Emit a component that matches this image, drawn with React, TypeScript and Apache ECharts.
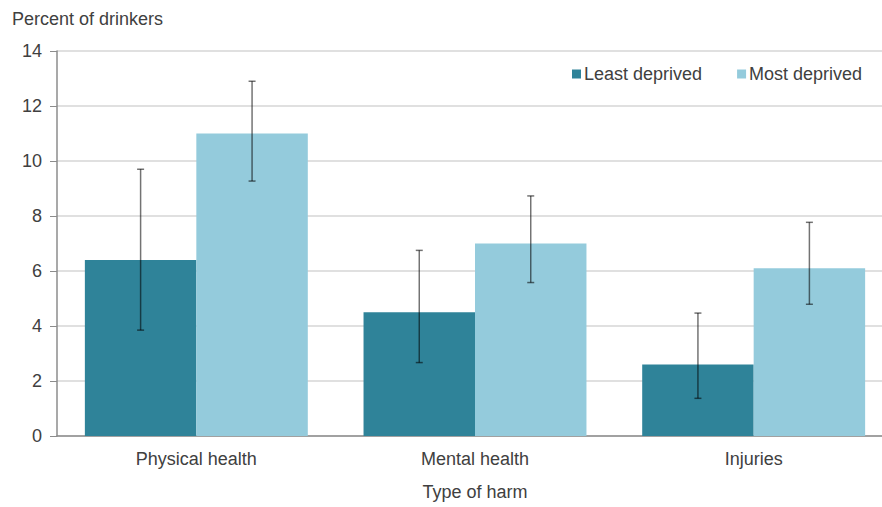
import React, { useEffect, useRef } from "react";
import * as echarts from "echarts";

const categories = ["Physical health", "Mental health", "Injuries"];
const seriesNames = ["Least deprived", "Most deprived"];
const leastDeprived = [6.4, 4.5, 2.6];
const mostDeprived = [11.0, 7.0, 6.1];
const leastLow = [3.85, 2.67, 1.37];
const leastHigh = [9.7, 6.75, 4.47];
const mostLow = [9.27, 5.58, 4.79];
const mostHigh = [12.9, 8.73, 7.77];
const yTicks = [0, 2, 4, 6, 8, 10, 12, 14];

const COLORS = ["#2f8399", "#94cbdc"];
const FONT = "'Liberation Sans', Arial, sans-serif";
const TEXT = "#404040";
const BAR_CATEGORY_GAP = 0.2;

function errorSeries(low: number[], high: number[], side: number) {
  return {
    type: "custom",
    name: "err" + side,
    silent: true,
    z: 10,
    data: categories.map((_, i) => [i, low[i], high[i]]),
    encode: { x: 0, y: [1, 2] },
    renderItem: (params: any, api: any) => {
      const idx = api.value(0);
      const lo = api.coord([idx, api.value(1)]);
      const hi = api.coord([idx, api.value(2)]);
      const cw = api.size([1, 0])[0];
      const bw = (cw * (1 - BAR_CATEGORY_GAP)) / 2;
      const x = lo[0] + side * (bw / 2);
      const cap = 3.5;
      const style = { stroke: "rgba(0,0,0,0.55)", lineWidth: 1.5 };
      return {
        type: "group",
        children: [
          { type: "line", shape: { x1: x, y1: hi[1], x2: x, y2: lo[1] }, style },
          { type: "line", shape: { x1: x - cap, y1: hi[1], x2: x + cap, y2: hi[1] }, style },
          { type: "line", shape: { x1: x - cap, y1: lo[1], x2: x + cap, y2: lo[1] }, style },
        ],
      };
    },
  };
}

export default function App() {
  const ref = useRef<HTMLDivElement>(null);

  useEffect(() => {
    if (!ref.current) return;
    const chart = echarts.init(ref.current, null, { renderer: "svg" });
    chart.setOption({
      animation: false,
      textStyle: { fontFamily: FONT },
      grid: {
        left: 57,
        right: -11,
        top: 51,
        bottom: 71,
        containLabel: false,
        outerBoundsMode: "none",
      },
      legend: {
        data: seriesNames,
        left: 567,
        top: 60,
        itemWidth: 9,
        itemHeight: 9,
        itemGap: 35,
        icon: "rect",
        textStyle: { color: TEXT, fontSize: 18, fontFamily: FONT, padding: [0, 0, 0, -2] },
      },
      graphic: [
        {
          type: "text",
          left: 12,
          top: 10,
          style: { text: "Percent of drinkers", fill: TEXT, fontSize: 18, fontFamily: FONT },
        },
      ],
      xAxis: {
        type: "category",
        data: categories,
        name: "Type of harm",
        nameLocation: "middle",
        nameGap: 47,
        nameTextStyle: { color: TEXT, fontSize: 18, fontFamily: FONT },
        axisLine: { lineStyle: { color: "#8c8c8c", width: 1.5 } },
        axisTick: { show: false },
        axisLabel: { color: TEXT, fontSize: 18, fontFamily: FONT, margin: 14 },
      },
      yAxis: {
        type: "value",
        min: yTicks[0],
        max: yTicks[yTicks.length - 1],
        interval: 2,
        axisLine: { show: true, lineStyle: { color: "#8c8c8c", width: 1.5 } },
        axisTick: { show: true, inside: false, length: 7, lineStyle: { color: "#8c8c8c" } },
        axisLabel: { color: TEXT, fontSize: 18, fontFamily: FONT, margin: 15 },
        splitLine: { lineStyle: { color: "#d6d6d6", width: 1.5 } },
      },
      series: [
        {
          name: seriesNames[0],
          type: "bar",
          data: leastDeprived,
          barGap: "0%",
          barCategoryGap: BAR_CATEGORY_GAP * 100 + "%",
          itemStyle: { color: COLORS[0] },
        },
        {
          name: seriesNames[1],
          type: "bar",
          data: mostDeprived,
          barGap: "0%",
          barCategoryGap: BAR_CATEGORY_GAP * 100 + "%",
          itemStyle: { color: COLORS[1] },
        },
        errorSeries(leastLow, leastHigh, -1),
        errorSeries(mostLow, mostHigh, 1),
      ],
    });
    return () => chart.dispose();
  }, []);

  return (
    <div
      ref={ref}
      style={{ position: "fixed", left: 0, top: 0, width: 882, height: 507, background: "#fff" }}
    />
  );
}
